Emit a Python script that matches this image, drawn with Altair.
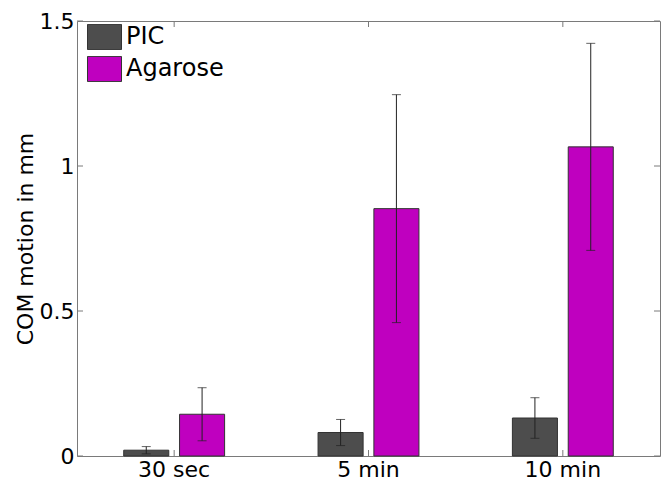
import altair as alt
import pandas as pd

categories = ["30 sec", "5 min", "10 min"]
series_names = ["PIC", "Agarose"]
pic_mean = [0.020, 0.081, 0.131]
pic_err = [0.0125, 0.045, 0.070]
aga_mean = [0.144, 0.853, 1.066]
aga_err = [0.0915, 0.393, 0.357]
y_ticks = [0, 0.5, 1, 1.5]
colors = ["#4d4d4d", "#bf00bf"]

rows = []
for i, c in enumerate(categories):
    rows.append({"category": c, "series": "PIC", "mean": pic_mean[i], "err": pic_err[i]})
    rows.append({"category": c, "series": "Agarose", "mean": aga_mean[i], "err": aga_err[i]})
df = pd.DataFrame(rows)
tick_df = pd.DataFrame({"v": y_ticks})
cat_df = pd.DataFrame({"category": categories})

W, H = 583, 435
FONT = "DejaVu Sans"
ydom = alt.Scale(domain=[0, 1.5], nice=False, zero=True)
xscale = alt.Scale(paddingInner=0, paddingOuter=0)
offscale = alt.Scale(paddingInner=0.193, paddingOuter=0.837)

xaxis = alt.Axis(title=None, labelAngle=0, labelFontSize=22, labelPadding=3,
                 labelColor="black", domain=False, ticks=False, grid=False)
yaxis = alt.Axis(title="COM motion in mm", values=y_ticks, format=".1~f",
                 labelFontSize=22, labelPadding=3, labelColor="black",
                 titleFontSize=22, titleFontWeight="normal", titleColor="black",
                 titlePadding=2, domain=False, ticks=False, grid=False)


def X():
    return alt.X("category:N", sort=categories, scale=xscale, axis=xaxis)


def XO():
    return alt.XOffset("series:N", sort=series_names, scale=offscale)


def Y(field):
    return alt.Y(field, scale=ydom, axis=yaxis)


base = alt.Chart(df).transform_calculate(
    lo="datum.mean - datum.err", hi="datum.mean + datum.err"
)

bars = base.mark_bar(stroke="#333333", strokeWidth=1).encode(
    x=X(), xOffset=XO(), y=Y("mean:Q"),
    color=alt.Color("series:N", sort=series_names,
                    scale=alt.Scale(domain=series_names, range=colors),
                    legend=alt.Legend(title=None, orient="none", legendX=10, legendY=3,
                                      symbolType="M-1,-0.74H1V0.74H-1Z", symbolSize=1156,
                                      symbolStrokeColor="#333333", symbolStrokeWidth=1,
                                      symbolOpacity=1, labelFontSize=24, labelFont=FONT,
                                      labelColor="black", labelOffset=4, clipHeight=26,
                                      rowPadding=6, padding=0)),
)

err = base.mark_rule(color="#222222", strokeWidth=1).encode(
    x=X(), xOffset=XO(), y=Y("lo:Q"), y2="hi:Q",
)
cap_hi = base.mark_tick(color="#222222", thickness=1, size=9, orient="horizontal").encode(
    x=X(), xOffset=XO(), y=Y("hi:Q"),
)
cap_lo = base.mark_tick(color="#222222", thickness=1, size=9, orient="horizontal").encode(
    x=X(), xOffset=XO(), y=Y("lo:Q"),
)

tick_color = "#7a7a7a"
ytick_l = alt.Chart(tick_df).mark_rule(color=tick_color, strokeWidth=1).encode(
    y=Y("v:Q"), x=alt.value(0), x2=alt.value(6))
ytick_r = alt.Chart(tick_df).mark_rule(color=tick_color, strokeWidth=1).encode(
    y=Y("v:Q"), x=alt.value(W - 6), x2=alt.value(W))
xtick_t = alt.Chart(cat_df).mark_rule(color=tick_color, strokeWidth=1).encode(
    x=X(), y=alt.value(0), y2=alt.value(6))
xtick_b = alt.Chart(cat_df).mark_rule(color=tick_color, strokeWidth=1).encode(
    x=X(), y=alt.value(H - 6), y2=alt.value(H))

chart = alt.layer(bars, err, cap_hi, cap_lo, ytick_l, ytick_r, xtick_t, xtick_b).properties(
    width=W, height=H,
    autosize=alt.AutoSizeParams(type="none"),
    padding={"left": 69, "top": 13, "right": 1, "bottom": 27},
).configure(font=FONT).configure_view(
    stroke="#7a7a7a", strokeWidth=1
).configure_axis(labelFont=FONT, titleFont=FONT)

chart.save("out.html", embed_options={"renderer": "svg", "actions": False})
